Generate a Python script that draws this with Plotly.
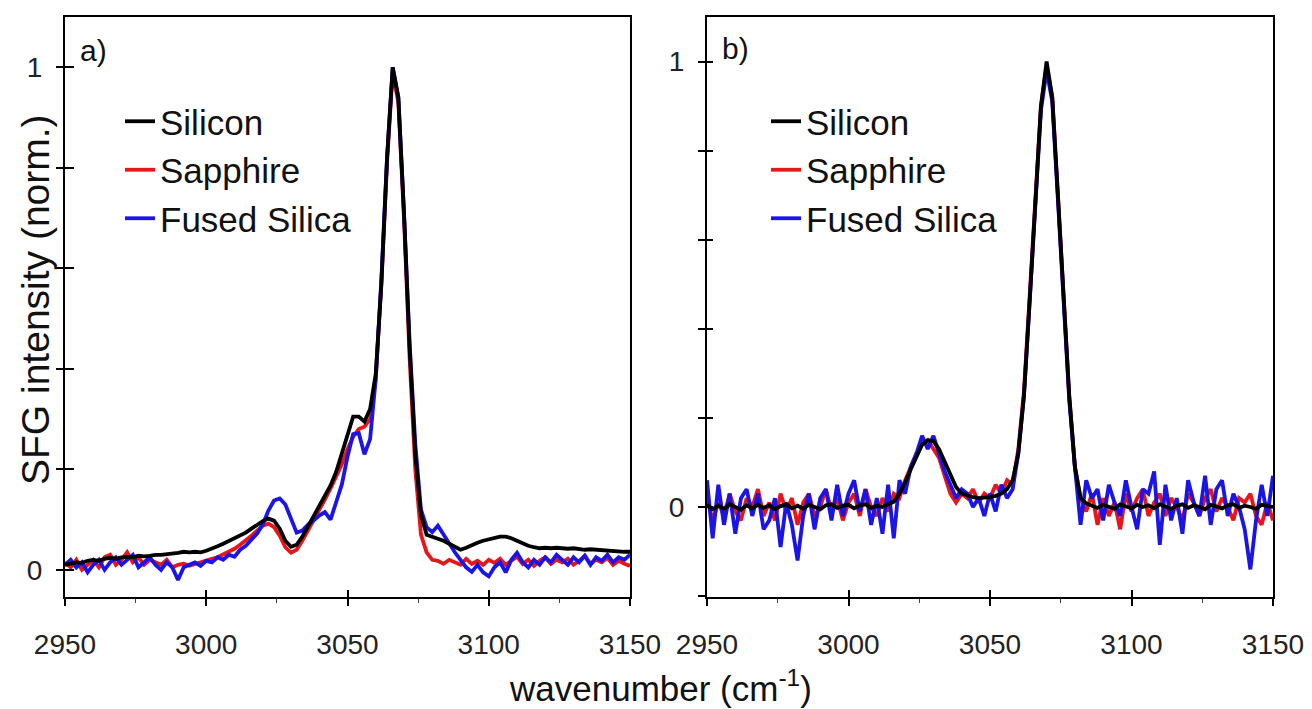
import plotly.graph_objects as go

# ---------------- data ----------------
wavenumber = list(range(2950, 3151, 2))

a_silicon = [0.010, 0.012, 0.015, 0.014, 0.018, 0.020, 0.018, 0.022, 0.024, 0.022,
             0.025, 0.026, 0.025, 0.028, 0.027, 0.028, 0.030, 0.030, 0.031, 0.033,
             0.034, 0.036, 0.035, 0.036, 0.035, 0.038, 0.042, 0.047, 0.052, 0.057,
             0.062, 0.068, 0.074, 0.082, 0.090, 0.097, 0.102, 0.098, 0.082, 0.058,
             0.046, 0.050, 0.066, 0.086, 0.105, 0.125, 0.145, 0.168, 0.195, 0.230,
             0.270, 0.305, 0.305, 0.295, 0.320, 0.390, 0.570, 0.820, 1.000, 0.940,
             0.710, 0.440, 0.230, 0.110, 0.070, 0.065, 0.062, 0.058, 0.052, 0.045,
             0.040, 0.044, 0.050, 0.054, 0.058, 0.061, 0.064, 0.066, 0.066, 0.063,
             0.058, 0.052, 0.048, 0.045, 0.043, 0.044, 0.043, 0.044, 0.043, 0.042,
             0.043, 0.041, 0.040, 0.041, 0.040, 0.039, 0.038, 0.038, 0.037, 0.036,
             0.036]

a_sapphire = [0.015, 0.005, 0.020, 0.000, 0.010, 0.020, 0.005, 0.025, 0.030, 0.010,
              0.020, 0.035, 0.015, 0.025, 0.010, 0.020, 0.015, 0.010, 0.020, 0.005,
              0.010, 0.012, 0.008, 0.012, 0.014, 0.018, 0.022, 0.025, 0.030, 0.036,
              0.042, 0.050, 0.058, 0.068, 0.078, 0.088, 0.092, 0.085, 0.068, 0.045,
              0.034, 0.040, 0.058, 0.078, 0.098, 0.118, 0.140, 0.162, 0.185, 0.210,
              0.240, 0.265, 0.280, 0.285, 0.300, 0.380, 0.570, 0.810, 0.990, 0.930,
              0.700, 0.420, 0.200, 0.070, 0.035, 0.020, 0.018, 0.012, 0.020, 0.015,
              0.010, 0.022, 0.012, 0.018, 0.010, 0.020, 0.014, 0.022, 0.010, 0.018,
              0.026, 0.012, 0.020, 0.008, 0.018, 0.025, 0.012, 0.020, 0.015, 0.022,
              0.010, 0.018, 0.028, 0.012, 0.020, 0.015, 0.024, 0.010, 0.018, 0.012,
              0.008]

a_fused = [0.010, 0.020, 0.005, 0.015, -0.005, 0.010, 0.020, 0.000, 0.015, 0.025,
           0.010, 0.020, 0.030, 0.005, 0.015, 0.025, 0.010, 0.000, 0.015, 0.005,
           -0.020, 0.005, 0.010, 0.015, 0.008, 0.018, 0.015, 0.025, 0.020, 0.030,
           0.026, 0.040, 0.048, 0.060, 0.072, 0.090, 0.118, 0.138, 0.142, 0.130,
           0.100, 0.074, 0.078, 0.090, 0.098, 0.108, 0.115, 0.100, 0.135, 0.170,
           0.225, 0.270, 0.272, 0.230, 0.260, 0.380, 0.580, 0.820, 1.000, 0.940,
           0.710, 0.450, 0.250, 0.120, 0.085, 0.075, 0.088, 0.070, 0.052, 0.035,
           0.020, 0.005, -0.004, 0.010, -0.005, -0.013, 0.005, 0.015, -0.005, 0.020,
           0.034, 0.015, 0.005, 0.020, 0.010, 0.025, 0.015, 0.030, 0.020, 0.010,
           0.025, 0.015, 0.028, 0.010, 0.025, 0.018, 0.030, 0.015, 0.025, 0.020,
           0.030]

b_silicon = [0.005, -0.005, 0.003, -0.004, 0.006, 0.000, -0.006, 0.004, -0.003, 0.005,
             -0.002, 0.004, -0.005, 0.002, 0.006, -0.003, 0.003, -0.004, 0.005, 0.000,
             -0.005, 0.004, 0.006, -0.002, 0.003, 0.005, -0.003, 0.004, 0.006, -0.002,
             0.003, 0.000, 0.005, 0.012, 0.030, 0.055, 0.085, 0.115, 0.140, 0.150,
             0.148, 0.130, 0.100, 0.070, 0.045, 0.030, 0.025, 0.022, 0.020, 0.020,
             0.022, 0.025, 0.030, 0.040, 0.060, 0.120, 0.250, 0.460, 0.690, 0.900,
             1.000, 0.920, 0.700, 0.460, 0.250, 0.090, 0.020, 0.008, 0.003, -0.002,
             0.005, 0.000, -0.004, 0.006, 0.002, -0.003, 0.005, 0.000, 0.004, -0.003,
             0.006, 0.001, -0.004, 0.003, 0.006, -0.002, 0.004, 0.000, -0.005, 0.005,
             0.002, -0.003, 0.004, 0.006, -0.002, 0.003, 0.000, -0.004, 0.005, 0.002,
             0.000]

b_sapphire = [0.02, -0.03, 0.01, -0.02, 0.03, -0.01, -0.03, 0.02, 0.00, 0.04,
              -0.02, 0.01, -0.03, 0.03, -0.01, 0.02, -0.04, 0.01, 0.03, -0.02,
              0.00, 0.04, -0.01, 0.02, -0.03, 0.01, 0.03, -0.02, 0.04, 0.00,
              -0.02, 0.02, -0.01, 0.03, 0.02, 0.06, 0.09, 0.12, 0.14, 0.15,
              0.13, 0.11, 0.07, 0.03, 0.01, 0.03, 0.02, 0.04, 0.01, 0.03,
              0.02, 0.05, 0.03, 0.06, 0.05, 0.13, 0.26, 0.47, 0.69, 0.90,
              0.99, 0.92, 0.70, 0.46, 0.25, 0.09, 0.02, -0.01, 0.03, -0.04,
              0.02, -0.02, 0.01, -0.05, 0.03, -0.01, 0.02, 0.04, -0.02, 0.01,
              0.03, -0.02, 0.02, 0.00, -0.03, 0.03, 0.01, -0.02, 0.02, 0.04,
              -0.01, 0.02, 0.00, -0.03, 0.02, 0.01, 0.03, -0.02, -0.04, 0.01,
              -0.03]

b_fused = [0.06, -0.07, 0.05, -0.04, 0.03, -0.06, 0.02, 0.04, -0.02, 0.03,
           -0.05, -0.03, 0.02, -0.09, 0.01, -0.04, -0.12, -0.02, 0.03, -0.05,
           0.02, 0.04, -0.03, 0.05, -0.02, 0.03, 0.06, -0.01, 0.04, -0.04,
           0.02, -0.06, 0.05, -0.07, 0.06, 0.03, 0.09, 0.12, 0.16, 0.13,
           0.16, 0.12, 0.08, 0.05, 0.02, 0.04, 0.03, 0.00, 0.02, -0.02,
           0.03, -0.01, 0.05, 0.02, 0.04, 0.12, 0.25, 0.46, 0.68, 0.89,
           0.98, 0.91, 0.69, 0.45, 0.24, 0.09, -0.04, 0.06, 0.02, 0.04,
           -0.03, 0.05, 0.01, -0.02, 0.06, 0.00, -0.05, 0.04, 0.03, 0.08,
           -0.085, 0.05, -0.03, 0.02, -0.06, 0.06, 0.01, -0.02, 0.07, -0.04,
           0.04, 0.06, -0.02, 0.03, 0.00, -0.05, -0.14, -0.03, 0.05, -0.02,
           0.07]

x_ticks = [2950, 3000, 3050, 3100, 3150]
x_ticklabels = ["2950", "3000", "3050", "3100", "3150"]
y_label_ticks = [0, 1]
y_label_text = ["0", "1"]
ya_all_ticks = [0, 0.2, 0.4, 0.6, 0.8, 1.0]
yb_all_ticks = [-0.2, 0, 0.2, 0.4, 0.6, 0.8, 1.0]

series_names = ["Silicon", "Sapphire", "Fused Silica"]
colors = {"Silicon": "#000000", "Sapphire": "#e8151b", "Fused Silica": "#1a14e6"}
ranks = {"Silicon": 1, "Sapphire": 2, "Fused Silica": 3}

# ---------------- figure ----------------
W, H = 1312, 709
FONT = "Liberation Sans, Arial, sans-serif"
fig = go.Figure()

panel_a = {"Silicon": a_silicon, "Sapphire": a_sapphire, "Fused Silica": a_fused}
panel_b = {"Silicon": b_silicon, "Sapphire": b_sapphire, "Fused Silica": b_fused}

draw_order = ["Sapphire", "Fused Silica", "Silicon"]
for name in draw_order:
    fig.add_trace(go.Scatter(x=wavenumber, y=panel_a[name], mode="lines", name=name,
                             line=dict(color=colors[name], width=3.8),
                             legendrank=ranks[name], legend="legend",
                             xaxis="x", yaxis="y"))
for name in draw_order:
    fig.add_trace(go.Scatter(x=wavenumber, y=panel_b[name], mode="lines", name=name,
                             line=dict(color=colors[name], width=3.8),
                             legendrank=ranks[name], legend="legend2",
                             xaxis="x2", yaxis="y2"))

# invisible traces for overlay axes (inside tick halves)
for xa, ya in [("x3", "y3"), ("x4", "y4")]:
    fig.add_trace(go.Scatter(x=[None], y=[None], mode="lines", showlegend=False,
                             hoverinfo="skip", xaxis=xa, yaxis=ya))

xa_dom = [65 / W, 630 / W]
xb_dom = [707 / W, 1273 / W]
y_dom = [1 - 597 / H, 1 - 17 / H]
ya_range = [-0.054, 1.1]
yb_range = [-0.202, 1.1]

tickfont = dict(family=FONT, size=28, color="#222222")
common_x = dict(range=[2950, 3150], showline=True, linewidth=2, linecolor="black",
                mirror=True, showgrid=False, zeroline=False, tickvals=x_ticks,
                ticktext=x_ticklabels, ticks="outside", ticklen=7, tickwidth=1.5,
                tickcolor="black", tickfont=tickfont, ticklabelstandoff=14,
                automargin=False,
                minor=dict(dtick=25, tick0=2950, ticks="outside", ticklen=4,
                           tickwidth=1, tickcolor="#444444"))
common_y = dict(showline=True, linewidth=2, linecolor="black", mirror=True,
                showgrid=False, zeroline=False, ticks="outside", ticklen=7,
                tickwidth=1.5, tickcolor="black", tickfont=tickfont,
                ticklabelstandoff=8, automargin=False,
                tickvals=y_label_ticks, ticktext=y_label_text,
                minor=dict(tick0=0, dtick=0.2, ticks="outside", ticklen=7,
                           tickwidth=1.5, tickcolor="black"))

fig.update_layout(
    width=W, height=H,
    margin=dict(l=0, r=0, t=0, b=0, pad=0, autoexpand=False),
    paper_bgcolor="white", plot_bgcolor="white",
    font=dict(family=FONT, color="black"),
    xaxis=dict(domain=xa_dom, anchor="y", **common_x),
    yaxis=dict(domain=y_dom, anchor="x", range=ya_range, **common_y),
    xaxis2=dict(domain=xb_dom, anchor="y2", **common_x),
    yaxis2=dict(domain=y_dom, anchor="x2", range=yb_range, **common_y),
    xaxis3=dict(overlaying="x", anchor="y3", range=[2950, 3150], tickvals=x_ticks,
                showticklabels=False, ticks="inside", ticklen=7, tickwidth=1.5,
                tickcolor="black", showgrid=False, zeroline=False, showline=False),
    yaxis3=dict(overlaying="y", anchor="x3", range=ya_range, tickvals=ya_all_ticks,
                showticklabels=False, ticks="inside", ticklen=9, tickwidth=1.5,
                tickcolor="black", showgrid=False, zeroline=False, showline=False),
    xaxis4=dict(overlaying="x2", anchor="y4", range=[2950, 3150], tickvals=x_ticks,
                showticklabels=False, ticks="inside", ticklen=7, tickwidth=1.5,
                tickcolor="black", showgrid=False, zeroline=False, showline=False),
    yaxis4=dict(overlaying="y2", anchor="x4", range=yb_range, tickvals=yb_all_ticks,
                showticklabels=False, ticks="inside", ticklen=6, tickwidth=1.5,
                tickcolor="black", showgrid=False, zeroline=False, showline=False),
    legend=dict(x=120 / W, y=1 - 92 / H, xanchor="left", yanchor="top",
                bgcolor="rgba(0,0,0,0)", font=dict(family=FONT, size=35, color="#111111"),
                itemwidth=30, tracegroupgap=0),
    legend2=dict(x=766 / W, y=1 - 92 / H, xanchor="left", yanchor="top",
                 bgcolor="rgba(0,0,0,0)", font=dict(family=FONT, size=35, color="#111111"),
                 itemwidth=30, tracegroupgap=0),
    showlegend=True,
    annotations=[
        dict(text="a)", x=78 / W, y=1 - 50 / H, xref="paper", yref="paper",
             xanchor="left", yanchor="middle", showarrow=False,
             font=dict(family=FONT, size=30, color="#111111")),
        dict(text="b)", x=720 / W, y=1 - 48 / H, xref="paper", yref="paper",
             xanchor="left", yanchor="middle", showarrow=False,
             font=dict(family=FONT, size=30, color="#111111")),
        dict(text="SFG intensity (norm.)", x=35 / W, y=1 - 300 / H, xref="paper",
             yref="paper", xanchor="center", yanchor="middle", textangle=-90,
             showarrow=False, font=dict(family=FONT, size=39, color="#111111")),
        dict(text="wavenumber (cm<sup>-1</sup>)", x=660 / W, y=0,
             xref="paper", yref="paper", xanchor="center", yanchor="bottom",
             borderpad=0, showarrow=False,
             font=dict(family=FONT, size=35, color="#111111")),
    ],
)

fig.write_html("out.html")
